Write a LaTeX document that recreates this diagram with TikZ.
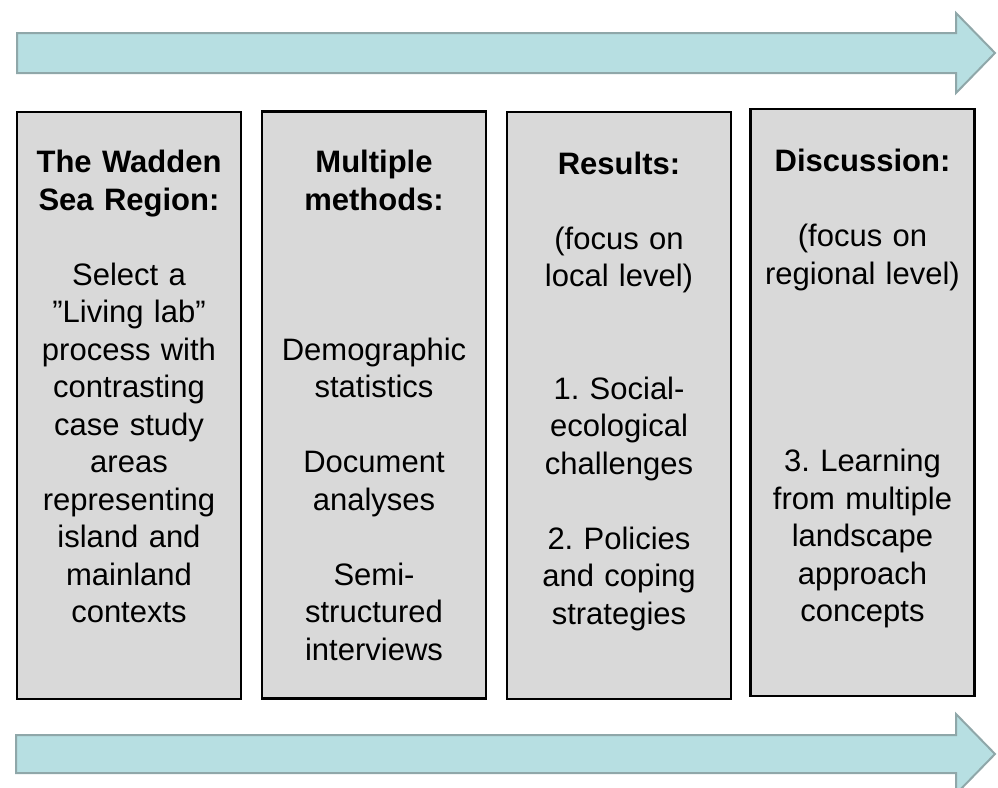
\documentclass[tikz,border=0pt]{standalone}
\usepackage{fontspec}
\setmainfont{Liberation Sans}
\usetikzlibrary{positioning}
\definecolor{flowfill}{HTML}{B7DFE2}
\definecolor{flowline}{HTML}{8FA7A9}
\definecolor{boxgray}{HTML}{D9D9D9}
\frenchspacing

\begin{document}
\begin{tikzpicture}[x=1pt, y=-1pt,
    stage/.style={rectangle, draw, line width=2.5pt, fill=boxgray, minimum width=224pt, minimum height=587pt},
    stagetext/.style={anchor=base, text width=222pt, align=center, inner sep=0pt, font=\fontsize{31}{37.5}\selectfont},
    flow/.style={fill=flowfill, draw=flowline, line width=2pt}]
    \useasboundingbox (0,0) rectangle (998,787);
    \clip (0,0) rectangle (998,787);

    % flow arrows
    \draw[flow] (17,33) -- (956,33) -- (956,13) -- (995,53) -- (956,93) -- (956,73) -- (17,73) -- cycle;
    \draw[flow] (16,735) -- (956,735) -- (956,714) -- (995,754) -- (956,794) -- (956,773) -- (16,773) -- cycle;

    % stages
    \node[stage] (region) at (129,405.5) {};
    \node[stage] (methods) at (374,405) {};
    \node[stage] (results) at (619,405.5) {};
    \node[stage] (discussion) at (862.5,402.5) {};

    \node[stagetext] (regiontext) at (129,172.5) {\textbf{The Wadden}\\ \textbf{Sea Region:}\\ ~\\ Select a\\ ”Living lab”\\ process with\\ contrasting\\ case study\\ areas\\ representing\\ island and\\ mainland\\ contexts};
    \node[stagetext] (methodstext) at (374,172.5) {\textbf{Multiple}\\ \textbf{methods:}\\ ~\\ ~\\ ~\\ Demographic\\ statistics\\ ~\\ Document\\ analyses\\ ~\\ Semi-\\ structured\\ interviews};
    \node[stagetext] (resultstext) at (619,174) {\textbf{Results:}\\ ~\\ (focus on\\ local level)\\ ~\\ ~\\ 1. Social-\\ ecological\\ challenges\\ ~\\ 2. Policies\\ and coping\\ strategies};
    \node[stagetext] (discussiontext) at (862.5,171.5) {\textbf{Discussion:}\\ ~\\ (focus on\\ regional level)\\ ~\\ ~\\ ~\\ ~\\ 3. Learning\\ from multiple\\ landscape\\ approach\\ concepts};
\end{tikzpicture}
\end{document}
